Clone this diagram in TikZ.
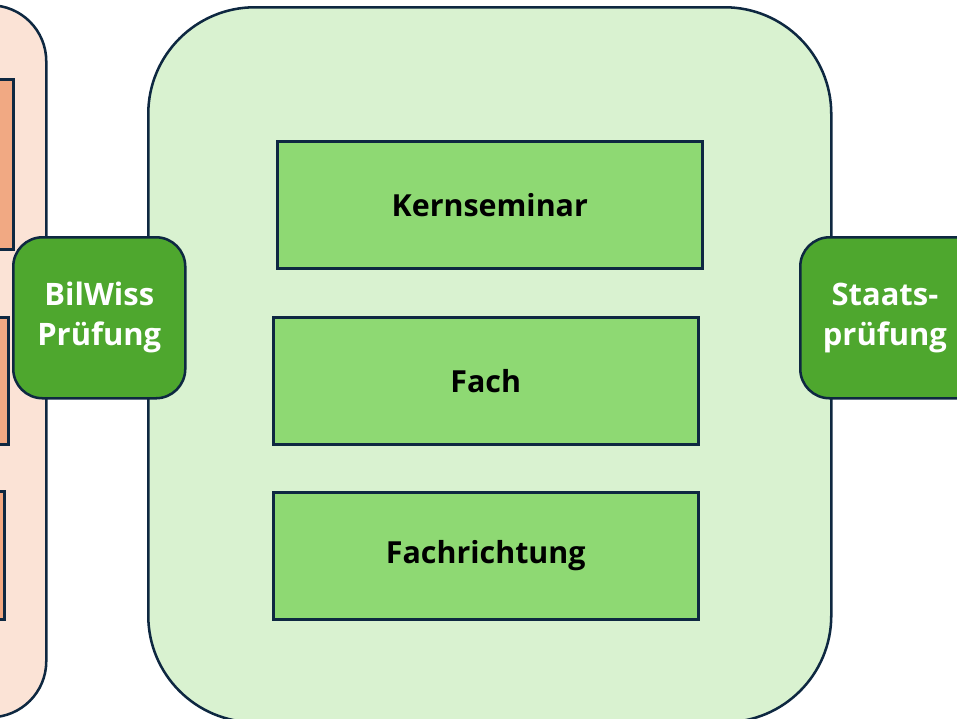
\documentclass[tikz,border=0pt]{standalone}
\usepackage{fontspec}
\setmainfont{Open Sans}
\definecolor{navy}{HTML}{0E2841}
\definecolor{paleGreen}{HTML}{D9F2D0}
\definecolor{midGreen}{HTML}{8ED973}
\definecolor{darkGreen}{HTML}{4EA72E}
\definecolor{palePeach}{HTML}{FBE3D6}
\definecolor{peach}{HTML}{F1A983}
\begin{document}
\begin{tikzpicture}[x=0.75pt,y=-0.75pt,
  box/.style={draw=navy, line width=1.9pt, rectangle, inner sep=0pt, anchor=north west},
  module/.style={box, fill=midGreen, font=\fontsize{22.8}{26}\selectfont\bfseries, text=black},
  exam/.style={box, fill=darkGreen, rounded corners=22pt, align=center,
    font=\fontsize{23.2}{30}\selectfont\bfseries, text=white}]
\useasboundingbox (0,0) rectangle (957,718);
\clip (0,0) rectangle (957,718);
% left phase container and its modules
\node[box, fill=palePeach, rounded corners=42pt, minimum width=250*0.75pt, minimum height=712*0.75pt] (left) at (-205,4) {};
\node[box, fill=peach, minimum width=312*0.75pt, minimum height=170*0.75pt] (l1) at (-300,78) {};
\node[box, fill=peach, minimum width=307*0.75pt, minimum height=127*0.75pt] (l2) at (-300,316) {};
\node[box, fill=peach, minimum width=303*0.75pt, minimum height=128*0.75pt] (l3) at (-300,490) {};
% main phase container
\node[box, fill=paleGreen, rounded corners=80pt, minimum width=683*0.75pt, minimum height=715*0.75pt] (main) at (147,6) {};
\node[module, minimum width=425*0.75pt, minimum height=127*0.75pt] (kern) at (276,140) {Kernseminar};
\node[module, minimum width=425*0.75pt, minimum height=127*0.75pt] (fach) at (272,316) {Fach};
\node[module, minimum width=425*0.75pt, minimum height=127*0.75pt] (richt) at (272,491) {Fachrichtung};
% exams between the phases
\node[exam, minimum width=172*0.75pt, minimum height=161*0.75pt] (bilwiss) at (12,236) {BilWiss\\Prüfung};
\node[exam, minimum width=200*0.75pt, minimum height=161*0.75pt] (staat) at (799,236) {\hspace*{-23pt}\begin{tabular}{@{}c@{}}Staats-\\prüfung\end{tabular}};
\end{tikzpicture}
\end{document}
